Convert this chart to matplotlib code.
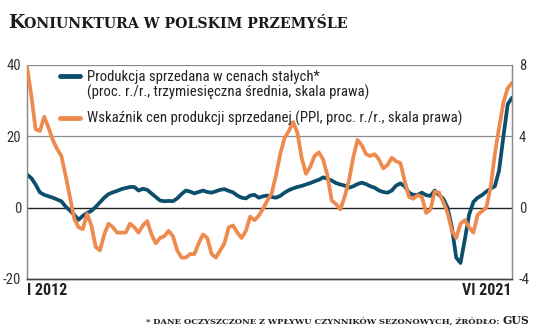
import matplotlib
matplotlib.use('Agg')
import matplotlib.pyplot as plt
import matplotlib.transforms as mtransforms
import numpy as np

# ---- data (monthly, I 2012 .. VI 2021) ----
prod = [9.3, 8.3, 6.5, 4.3, 3.6, 3.2, 2.8, 2.3, 1.8, 0.3,
        -0.8, -2.0, -3.4, -2.3, -1.5, -0.9, 0.2, 1.5, 2.8, 3.8,
        4.3, 4.7, 5.2, 5.5, 5.8, 5.8, 4.8, 5.3, 5.0, 4.0,
        3.0, 2.0, 1.8, 1.9, 1.8, 2.6, 3.8, 4.8, 4.5, 4.0,
        4.4, 4.8, 4.4, 4.2, 4.6, 5.0, 5.2, 4.7, 4.3, 3.4,
        2.8, 2.6, 3.4, 3.6, 2.8, 3.2, 3.4, 3.0, 2.8, 3.3,
        4.2, 4.9, 5.4, 5.8, 6.1, 6.5, 6.9, 7.4, 7.8, 8.5,
        8.1, 7.6, 6.9, 6.5, 6.2, 5.6, 6.0, 6.6, 7.0, 6.6,
        6.0, 5.6, 4.8, 4.4, 4.2, 4.8, 6.2, 6.8, 6.0, 4.2,
        3.6, 3.6, 4.2, 3.5, 3.3, 4.8, 3.6, 2.5, 0.0, -5.6,
        -14.0, -15.5, -9.0, -2.0, 1.6, 2.8, 3.5, 4.5, 5.3, 6.0,
        10.5, 20.0, 29.0, 30.8]
ppi = [7.9, 6.3, 4.4, 4.3, 5.1, 4.5, 3.8, 3.3, 2.9, 1.8,
       0.6, -0.6, -1.1, -1.2, -0.35, -1.0, -2.2, -2.4, -1.5, -0.9,
       -1.1, -1.4, -1.4, -1.4, -0.9, -1.1, -1.4, -1.0, -0.75, -1.5,
       -2.0, -1.7, -1.6, -1.3, -1.6, -2.4, -2.8, -2.8, -2.6, -2.6,
       -2.0, -1.5, -1.7, -2.6, -2.8, -2.4, -2.0, -1.1, -1.0, -1.4,
       -1.7, -1.3, -0.5, -0.7, -0.45, -0.05, 0.4, 0.8, 1.8, 3.0,
       3.9, 4.3, 4.8, 4.2, 2.8, 1.9, 2.3, 2.9, 3.1, 2.7,
       1.8, 0.4, 0.2, -0.1, 0.6, 1.5, 2.8, 3.8, 3.5, 3.0,
       2.9, 3.0, 2.7, 2.2, 2.4, 2.8, 2.6, 2.5, 1.5, 0.6,
       0.5, 0.7, 0.6, -0.3, -0.1, 0.9, 0.85, 0.3, -0.3, -1.3,
       -1.7, -0.9, -0.7, -1.1, -1.4, -0.4, -0.2, 0.0, 1.1, 3.0,
       4.5, 5.9, 6.7, 7.0]
left_ticks = [-20, 0, 20, 40]
right_ticks = [-4, 0, 4, 8]
start_label = 'I 2012'
end_label = 'VI 2021'
label_prod = ['Produkcja sprzedana w cenach stałych*',
              '(proc. r./r., trzymiesięczna średnia, skala prawa)']
label_ppi = 'Wskaźnik cen produkcji sprzedanej (PPI, proc. r./r., skala prawa)'
title_first = 'K'
title_rest = 'ONIUNKTURA W POLSKIM PRZEMYŚLE'
foot_main = '* DANE OCZYSZCZONE Z WPŁYWU CZYNNIKÓW SEZONOWYCH, ŹRÓDŁO: '
foot_end = 'GUS'

BLUE = '#0c4e6b'
ORANGE = '#ef8a4f'
SANS = ['Roboto Condensed', 'Liberation Sans Narrow', 'DejaVu Sans']
SERIF = ['DejaVu Serif']

W, H = 536, 327
fig = plt.figure(figsize=(W / 100, H / 100), dpi=100)
ax = fig.add_axes([27 / W, 1 - 279 / H, 485 / W, 214 / H])
ax2 = ax.twinx()

x = np.arange(len(prod))
ax.set_xlim(0, len(prod) - 1)
ax.set_ylim(left_ticks[0], left_ticks[-1])
ax2.set_ylim(right_ticks[0], right_ticks[-1])

for t in left_ticks:
    if t == 0:
        ax.axhline(t, color='#222222', lw=1.0, zorder=1)
    elif t == left_ticks[0]:
        pass
    else:
        ax.axhline(t, color='#8a8a8a', lw=0.9, zorder=1)

ax.plot(x, prod, color=BLUE, lw=2.7, solid_joinstyle='round', solid_capstyle='round', zorder=3)
ax2.plot(x, ppi, color=ORANGE, lw=2.7, solid_joinstyle='round', solid_capstyle='round', zorder=3)

for a in (ax, ax2):
    a.spines['top'].set_visible(False)
    a.spines['left'].set_color('#8a8a8a')
    a.spines['right'].set_color('#8a8a8a')
    a.spines['left'].set_linewidth(0.9)
    a.spines['right'].set_linewidth(0.9)
    a.spines['bottom'].set_color('#444444')
    a.spines['bottom'].set_linewidth(1.0)
    a.set_xticks([])

ax.set_yticks(left_ticks)
ax.set_yticklabels([str(t) for t in left_ticks])
ax2.set_yticks(right_ticks)
ax2.set_yticklabels([str(t) for t in right_ticks])
ax.tick_params(axis='y', length=0, pad=4, labelsize=10.5, labelcolor='#333333')
ax2.tick_params(axis='y', length=0, pad=5, labelsize=10.5, labelcolor='#333333')
for lab in ax.get_yticklabels() + ax2.get_yticklabels():
    lab.set_family(SANS)

# bottom period labels
trans = mtransforms.blended_transform_factory(ax.transData, ax.transAxes)
ax.text(0, -0.056, start_label, transform=trans, ha='left', va='center',
        fontsize=11.5, fontweight='bold', family=SANS, color='#222222')
ax.text(len(prod) - 1, -0.056, end_label, transform=trans, ha='right', va='center',
        fontsize=11.5, fontweight='bold', family=SANS, color='#222222')

# legend (manual)
def fx(px):
    return (px - 27) / 485

def fy(py):
    return (279 - py) / 214

ax2.plot([fx(60), fx(80)], [fy(76), fy(76)], transform=ax2.transAxes, color=BLUE,
         lw=3.5, solid_capstyle='round', clip_on=False, zorder=5)
ax2.plot([fx(60), fx(80)], [fy(118), fy(118)], transform=ax2.transAxes, color=ORANGE,
         lw=3.5, solid_capstyle='round', clip_on=False, zorder=5)
LFS = 10.65
ax2.text(fx(87), fy(76.5), label_prod[0], transform=ax2.transAxes, ha='left', va='center',
         fontsize=LFS, family=SANS, color='#222222')
ax2.text(fx(87), fy(92), label_prod[1], transform=ax2.transAxes, ha='left', va='center',
         fontsize=LFS, family=SANS, color='#222222')
ax2.text(fx(87), fy(118), label_ppi, transform=ax2.transAxes, ha='left', va='center',
         fontsize=LFS, family=SANS, color='#222222')

# title in small caps (simulated)
fig.canvas.draw()
r = fig.canvas.get_renderer()
t1 = fig.text(8 / W, 1 - 28 / H, title_first, fontsize=13.5, fontweight='bold',
              family=SERIF, color='#1a1a1a', va='baseline', ha='left')
bb = t1.get_window_extent(renderer=r)
fig.text(bb.x1 / W, 1 - 28 / H, title_rest, fontsize=10.2, fontweight='bold',
         family=SERIF, color='#1a1a1a', va='baseline', ha='left')

# footnote
t3 = fig.text(529 / W, 1 - 324 / H, foot_end, fontsize=7.8, fontweight='bold',
              family=SERIF, color='#222222', va='baseline', ha='right')
bb3 = t3.get_window_extent(renderer=r)
fig.text(bb3.x0 / W, 1 - 324 / H, foot_main, fontsize=6.05, fontweight='bold',
         family=SERIF, color='#222222', va='baseline', ha='right')

fig.savefig('out.png', dpi=100)
